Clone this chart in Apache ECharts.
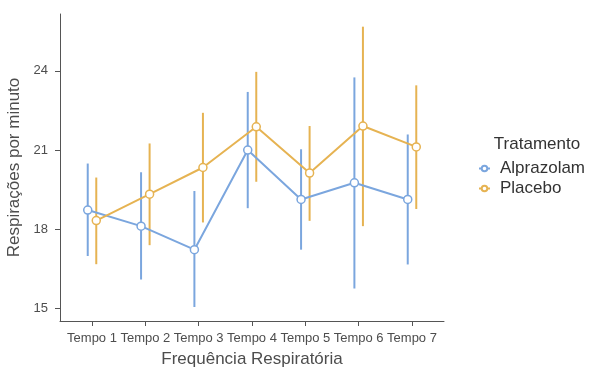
<!DOCTYPE html>
<html>
<head>
<meta charset="utf-8">
<script src="https://cdn.jsdelivr.net/npm/echarts@6/dist/echarts.min.js"></script>
<style>html,body{margin:0;padding:0;background:#fff}#c{width:593px;height:372px}</style>
</head>
<body>
<div id="c"></div>
<script>
var categories = ['Tempo 1','Tempo 2','Tempo 3','Tempo 4','Tempo 5','Tempo 6','Tempo 7'];
var seriesNames = ['Alprazolam','Placebo'];
var alprazolamMean  = [18.73, 18.12, 17.23, 21.00, 19.13, 19.76, 19.13];
var alprazolamLower = [16.99, 16.10, 15.06, 18.80, 17.23, 15.76, 16.67];
var alprazolamUpper = [20.49, 20.16, 19.45, 23.20, 21.03, 23.75, 21.59];
var placeboMean  = [18.33, 19.33, 20.34, 21.88, 20.13, 21.91, 21.12];
var placeboLower = [16.68, 17.40, 18.26, 19.80, 18.32, 18.12, 18.77];
var placeboUpper = [19.96, 21.25, 22.41, 23.96, 21.91, 25.67, 23.45];
var yTicks = [15, 18, 21, 24];

var colors = ['#7BA6DE', '#E6B352'];
var dodge = [-0.08, 0.08];
var FONT = 'Liberation Sans, Arial, sans-serif';

function pts(mean, k){ return mean.map(function(v,i){ return [i+1+dodge[k], v]; }); }
function bars(lo, hi, k){ return lo.map(function(v,i){ return [i+1+dodge[k], v, hi[i]]; }); }

function errRender(color){
  return function(params, api){
    var a = api.coord([api.value(0), api.value(1)]);
    var b = api.coord([api.value(0), api.value(2)]);
    return {type:'line', shape:{x1:a[0],y1:a[1],x2:b[0],y2:b[1]}, style:{stroke:color, lineWidth:2}};
  };
}

var chart = echarts.init(document.getElementById('c'), null, {renderer:'canvas'});
chart.setOption({
  animation:false,
  textStyle:{fontFamily:FONT},
  title:{text:'Tratamento', left:532, top:131, textAlign:'center',
    textStyle:{fontFamily:FONT, fontSize:17, lineHeight:17, fontWeight:'normal', color:'#333'}},
  legend:{orient:'vertical', left:473, top:155, itemWidth:11, itemHeight:7, itemGap:3,
    data:seriesNames,
    textStyle:{fontFamily:FONT, fontSize:17, lineHeight:17, color:'#333', padding:[0,0,0,5]}},
  grid:{left:60, right:149, top:14, bottom:51, containLabel:false, outerBoundsMode:'none'},
  xAxis:{type:'value', min:0.4, max:7.6,
    name:'Frequência Respiratória', nameLocation:'middle', nameGap:30,
    nameTextStyle:{fontFamily:FONT, fontSize:17, color:'#4d4d4d'},
    axisLine:{show:true, lineStyle:{color:'#555', width:1}},
    axisTick:{show:true, length:5, lineStyle:{color:'#555'}, customValues:[1,2,3,4,5,6,7]},
    axisLabel:{fontFamily:FONT, fontSize:13, color:'#4d4d4d', margin:11,
      customValues:[1,2,3,4,5,6,7],
      formatter:function(v){ return categories[Math.round(v)-1] || ''; }},
    splitLine:{show:false}},
  yAxis:{type:'value', min:14.53, max:26.15,
    name:'Respirações por minuto', nameLocation:'middle', nameGap:36,
    nameTextStyle:{fontFamily:FONT, fontSize:17, color:'#4d4d4d'},
    axisLine:{show:true, lineStyle:{color:'#555', width:1}},
    axisTick:{show:true, length:5, lineStyle:{color:'#555'}, customValues:yTicks},
    axisLabel:{fontFamily:FONT, fontSize:13, color:'#4d4d4d', margin:12, customValues:yTicks},
    splitLine:{show:false}},
  series:[
    {type:'custom', name:'err_Alprazolam', renderItem:errRender(colors[0]), data:bars(alprazolamLower, alprazolamUpper, 0), z:1, encode:{x:0,y:[1,2]}},
    {type:'custom', name:'err_Placebo', renderItem:errRender(colors[1]), data:bars(placeboLower, placeboUpper, 1), z:1, encode:{x:0,y:[1,2]}},
    {type:'line', name:'Alprazolam', data:pts(alprazolamMean,0), color:colors[0],
      lineStyle:{width:2, color:colors[0]}, symbol:'circle', symbolSize:8,
      itemStyle:{color:'#fff', borderColor:colors[0], borderWidth:1.5}, z:3},
    {type:'line', name:'Placebo', data:pts(placeboMean,1), color:colors[1],
      lineStyle:{width:2, color:colors[1]}, symbol:'circle', symbolSize:8,
      itemStyle:{color:'#fff', borderColor:colors[1], borderWidth:1.5}, z:3}
  ]
});
</script>
</body>
</html>
